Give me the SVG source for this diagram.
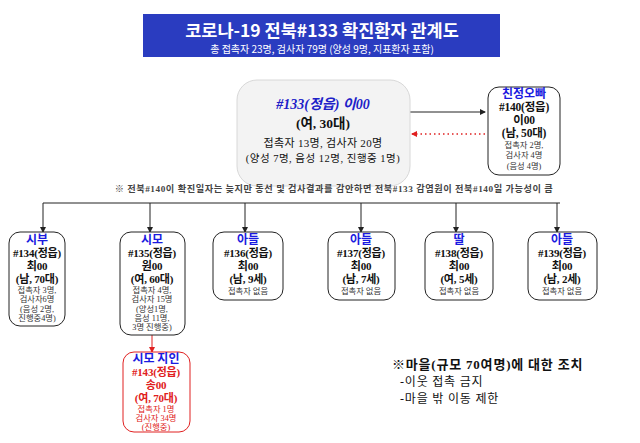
<svg xmlns="http://www.w3.org/2000/svg" width="640" height="443" viewBox="0 0 640 443">
<defs>
<marker id="ab" markerWidth="6" markerHeight="6" refX="5" refY="3" orient="auto" markerUnits="userSpaceOnUse"><path d="M0,0 L6,3 L0,6 z" fill="#222"/></marker>
<marker id="ar" markerWidth="6" markerHeight="6" refX="5" refY="3" orient="auto" markerUnits="userSpaceOnUse"><path d="M0,0 L6,3 L0,6 z" fill="#e02020"/></marker>
</defs>
<style>
text{font-family:"Liberation Serif","Noto Sans CJK KR",serif;text-anchor:middle;fill:#111}
.g{font-family:"Noto Sans CJK KR","Liberation Sans",sans-serif}
.hd{font-family:"Noto Sans CJK KR",sans-serif;font-weight:bold;fill:#1a1ae0;font-size:12px}
.b{font-weight:bold;font-size:11px;letter-spacing:-0.2px}
.s{font-size:8.3px;fill:#333}
.box{fill:#fff;stroke:#222;stroke-width:1}
.ln{stroke:#222;stroke-width:1;fill:none}
.red{fill:#e02020}
</style>
<rect width="640" height="443" fill="#fff"/>
<g id="title">
<rect x="143" y="14" width="357" height="43" fill="#2a3cc0"/>
<text class="g" x="322" y="37" style="font-size:17.5px;font-weight:bold;fill:#fff">코로나-19 전북#133 확진환자 관계도</text>
<text class="g" x="322" y="53" style="font-size:10px;fill:#fff">총 접촉자 23명, 검사자 79명 (양성 9명, 지표환자 포함)</text>
</g>
<g id="connectors">
<line class="ln" x1="410" y1="112" x2="485" y2="112" marker-end="url(#ab)"/>
<line x1="485" y1="134" x2="412" y2="134" stroke="#e02020" stroke-width="1.5" stroke-dasharray="1.5,3" marker-end="url(#ar)"/>
<polyline class="ln" points="43,203 560,203"/>
<line class="ln" x1="43" y1="203" x2="43" y2="232" marker-end="url(#ab)"/>
<line class="ln" x1="150" y1="203" x2="150" y2="232" marker-end="url(#ab)"/>
<line class="ln" x1="245" y1="203" x2="245" y2="232" marker-end="url(#ab)"/>
<line class="ln" x1="361" y1="203" x2="361" y2="232" marker-end="url(#ab)"/>
<line class="ln" x1="456" y1="203" x2="456" y2="232" marker-end="url(#ab)"/>
<line class="ln" x1="557" y1="203" x2="557" y2="232" marker-end="url(#ab)"/>
<line x1="152" y1="335" x2="152" y2="352" stroke="#e02020" stroke-width="1" marker-end="url(#ar)"/>
</g>
<g id="n133">
<rect x="237" y="80" width="173" height="106" rx="20" fill="#f3f3f3" stroke="#d8d8d8"/>
<text x="323" y="109" style="font-size:14px;font-weight:bold;font-style:italic;fill:#2020c8">#133(정읍) 이00</text>
<text x="323" y="128" style="font-size:13.5px;font-weight:bold">(여, 30대)</text>
<text x="323" y="147" style="font-size:11px;letter-spacing:0.3px">접촉자 13명, 검사자 20명</text>
<text x="323" y="162" style="font-size:10.5px;letter-spacing:0.5px">(양성 7명, 음성 12명, 진행중 1명)</text>
</g>
<g id="n140">
<rect class="box" x="488" y="87" width="72" height="88" rx="11"/>
<text class="hd" x="524" y="98">친정오빠</text>
<text class="b" x="524" y="111" style="font-size:11.5px">#140(정읍)</text>
<text class="b" x="524" y="124" style="font-size:11.5px">이00</text>
<text class="b" x="524" y="137" style="font-size:11.5px">(남, 50대)</text>
<text class="s" x="524" y="148">접촉자 2명,</text>
<text class="s" x="524" y="158">검사자 4명</text>
<text class="s" x="524" y="169">(음성 4명)</text>
</g>
<g id="note">
<text x="334" y="192" style="font-size:9.2px;letter-spacing:0.55px;font-weight:bold;fill:#444">※ 전북#140이 확진일자는 늦지만 동선 및 검사결과를 감안하면 전북#133 감염원이 전북#140일 가능성이 큼</text>
</g>
<g id="n134">
<rect class="box" x="9" y="232" width="56" height="94" rx="11"/>
<text class="hd" x="37" y="244">시부</text>
<text class="b" x="37" y="257">#134(정읍)</text>
<text class="b" x="37" y="270">최00</text>
<text class="b" x="37" y="283">(남, 70대)</text>
<text class="s" x="37" y="293">접촉자 3명,</text>
<text class="s" x="37" y="302">검사자6명</text>
<text class="s" x="37" y="312">(음성 2명,</text>
<text class="s" x="37" y="321">진행중4명)</text>
</g>
<g id="n135">
<rect class="box" x="120" y="232" width="65" height="103" rx="11"/>
<text class="hd" x="152" y="244">시모</text>
<text class="b" x="152" y="257">#135(정읍)</text>
<text class="b" x="152" y="270">원00</text>
<text class="b" x="152" y="283">(여, 60대)</text>
<text class="s" x="152" y="293">접촉자 4명,</text>
<text class="s" x="152" y="302">검사자 15명</text>
<text class="s" x="152" y="312">(양성1명,</text>
<text class="s" x="152" y="321">음성 11명,</text>
<text class="s" x="152" y="330">3명 진행중)</text>
</g>
<g id="n136">
<rect class="box" x="213" y="232" width="70" height="68" rx="11"/>
<text class="hd" x="248" y="244">아들</text>
<text class="b" x="248" y="257">#136(정읍)</text>
<text class="b" x="248" y="270">최00</text>
<text class="b" x="248" y="283">(남, 9세)</text>
<text class="s" x="248" y="294">접촉자 없음</text>
</g>
<g id="n137">
<rect class="box" x="328" y="232" width="67" height="68" rx="11"/>
<text class="hd" x="361" y="244">아들</text>
<text class="b" x="361" y="257">#137(정읍)</text>
<text class="b" x="361" y="270">최00</text>
<text class="b" x="361" y="283">(남, 7세)</text>
<text class="s" x="361" y="294">접촉자 없음</text>
</g>
<g id="n138">
<rect class="box" x="425" y="232" width="68" height="68" rx="11"/>
<text class="hd" x="459" y="244">딸</text>
<text class="b" x="459" y="257">#138(정읍)</text>
<text class="b" x="459" y="270">최00</text>
<text class="b" x="459" y="283">(여, 5세)</text>
<text class="s" x="459" y="294">접촉자 없음</text>
</g>
<g id="n139">
<rect class="box" x="528" y="232" width="69" height="68" rx="11"/>
<text class="hd" x="562" y="244">아들</text>
<text class="b" x="562" y="257">#139(정읍)</text>
<text class="b" x="562" y="270">최00</text>
<text class="b" x="562" y="283">(남, 2세)</text>
<text class="s" x="562" y="294">접촉자 없음</text>
</g>
<g id="n143">
<rect x="123" y="352" width="67" height="80" rx="11" fill="#fff" stroke="#e02020"/>
<text class="hd" x="156" y="363">시모 지인</text>
<text class="b red" x="156" y="376">#143(정읍)</text>
<text class="b red" x="156" y="389">송00</text>
<text class="b red" x="156" y="402">(여, 70대)</text>
<text class="s red" x="156" y="412">접촉자 1명</text>
<text class="s red" x="156" y="421">검사자 34명</text>
<text class="s red" x="156" y="430">(진행중)</text>
</g>
<g id="village">
<text x="392" y="369" style="text-anchor:start;font-size:13px;letter-spacing:0.8px;font-weight:bold">※마을(규모 70여명)에 대한 조치</text>
<text x="400" y="386" style="text-anchor:start;font-size:12px;letter-spacing:0.8px">-이웃 접촉 금지</text>
<text x="400" y="403" style="text-anchor:start;font-size:12px;letter-spacing:0.8px">-마을 밖 이동 제한</text>
</g>
</svg>
